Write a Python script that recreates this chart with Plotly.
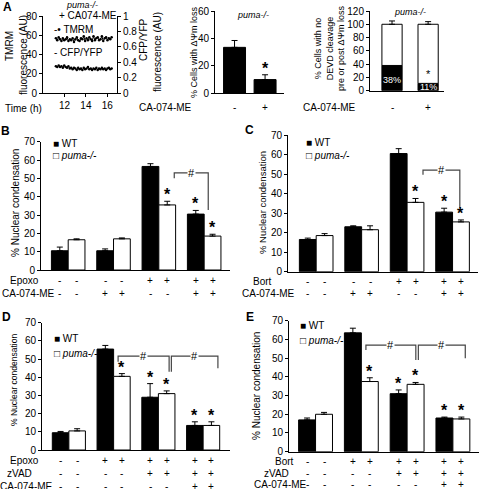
import plotly.graph_objects as go

W, H = 480, 489
FONT = "Liberation Sans, Arial, sans-serif"


def fx(p):
    return p / W


def fy(p):
    return 1 - p / H


# ---------------- Panel A: time course (puma-/- + CA074-ME) ----------------
time_h = [11.2, 11.33, 11.46, 11.59, 11.72, 11.85, 11.98, 12.11, 12.24, 12.37,
          12.5, 12.63, 12.76, 12.89, 13.02, 13.15, 13.28, 13.41, 13.54, 13.67,
          13.8, 13.93, 14.06, 14.19, 14.32, 14.45, 14.58, 14.71, 14.84, 14.97,
          15.1, 15.23, 15.36, 15.49, 15.62, 15.75, 15.88, 16.01, 16.14, 16.27, 16.4]
tmrm = [57, 55, 58, 56, 54, 57, 55, 56, 58, 54, 56, 55, 57, 53, 56, 58, 55, 54, 57, 56,
        59, 54, 57, 55, 58, 56, 54, 59, 55, 57, 58, 55, 56, 59, 54, 57, 58, 55, 57, 56, 58]
cfp_yfp = [0.35, 0.34, 0.36, 0.34, 0.35, 0.33, 0.36, 0.34, 0.33, 0.35, 0.32, 0.33, 0.31,
           0.33, 0.32, 0.30, 0.33, 0.31, 0.32, 0.30, 0.33, 0.31, 0.32, 0.34, 0.31, 0.32,
           0.30, 0.32, 0.31, 0.33, 0.30, 0.32, 0.31, 0.33, 0.31, 0.32, 0.30, 0.32, 0.33, 0.31, 0.32]

# ---------------- Panel A: bar charts ----------------
a_pos = [0, 1]
a_ca_signs = ["-", "+"]
dpsi_loss = [33.5, 10.0]
dpsi_loss_err = [5.0, 3.5]
devd_black = [38, 11]
devd_black_err = [4, 6]
devd_total = [100, 100]
devd_total_err = [5, 4]
devd_labels = ["38%", "11%"]

# ---------------- Panels B-E ----------------
groups = [0, 1, 2, 3]

b_wt = [10.5, 10.5, 56.5, 30.5]
b_wt_err = [2.0, 1.0, 1.5, 2.0]
b_ko = [16.5, 17.0, 35.5, 18.5]
b_ko_err = [0.5, 0.5, 2.0, 1.0]
b_rows = [("Epoxo", ["-", "-", "+", "+"]), ("CA-074-ME", ["-", "+", "-", "+"])]

c_wt = [16.5, 23.0, 60.5, 30.5]
c_wt_err = [0.7, 0.5, 2.5, 2.0]
c_ko = [18.5, 21.5, 35.5, 25.5]
c_ko_err = [1.0, 2.0, 2.0, 1.0]
c_rows = [("Bort", ["-", "-", "+", "+"]), ("CA-074-ME", ["-", "+", "-", "+"])]

d_wt = [9.5, 55.5, 29.0, 13.5]
d_wt_err = [0.7, 2.0, 7.5, 2.0]
d_ko = [10.5, 40.5, 31.0, 13.5]
d_ko_err = [1.2, 1.5, 1.5, 2.0]
d_rows = [("Epoxo", ["-", "+", "+", "+"]), ("zVAD", ["-", "-", "+", "+"]),
          ("CA-074-ME", ["-", "-", "-", "+"])]

e_wt = [17.0, 63.5, 31.0, 18.0]
e_wt_err = [1.0, 2.5, 2.0, 0.5]
e_ko = [20.0, 37.5, 36.0, 17.5]
e_ko_err = [1.0, 2.0, 1.0, 1.0]
e_rows = [("Bort", ["-", "+", "+", "+"]), ("zVAD", ["-", "-", "+", "+"]),
          ("CA-074-ME", ["-", "-", "-", "+"])]

BW = 0.37  # bar width (category units)

fig = go.Figure()
ann = []
shapes = []


def err(arr):
    return dict(type="data", array=arr, arrayminus=[0] * len(arr), symmetric=False,
                color="black", thickness=1, width=3)


def A(x, y, text, size=10, xref="paper", yref="paper", **kw):
    d = dict(x=x, y=y, text=text, xref=xref, yref=yref, showarrow=False,
             xanchor="center", yanchor="middle",
             font=dict(family=FONT, size=size, color=kw.pop("color", "black")))
    d.update(kw)
    ann.append(d)


# ---- A1 traces ----
fig.add_trace(go.Scatter(x=time_h, y=tmrm, xaxis="x", yaxis="y", mode="lines+markers",
                         line=dict(color="black", width=1), marker=dict(size=2.5, color="black"),
                         showlegend=False, hoverinfo="skip"))
fig.add_trace(go.Scatter(x=time_h, y=cfp_yfp, xaxis="x", yaxis="y2", mode="lines+markers",
                         line=dict(color="black", width=1), marker=dict(size=2.5, color="black"),
                         showlegend=False, hoverinfo="skip"))

# ---- A2 ----
fig.add_trace(go.Bar(x=a_pos, y=dpsi_loss, xaxis="x3", yaxis="y3", width=0.72,
                     marker=dict(color="black", line=dict(color="black", width=1)),
                     error_y=err(dpsi_loss_err), showlegend=False, hoverinfo="skip"))

# ---- A3 ----
fig.add_trace(go.Bar(x=a_pos, y=devd_black, xaxis="x4", yaxis="y4", width=0.56,
                     marker=dict(color="black", line=dict(color="black", width=1)),
                     error_y=err(devd_black_err), showlegend=False, hoverinfo="skip"))
fig.add_trace(go.Bar(x=a_pos, y=[t - b for t, b in zip(devd_total, devd_black)],
                     base=devd_black, xaxis="x4", yaxis="y4", width=0.56,
                     marker=dict(color="white", line=dict(color="black", width=1)),
                     error_y=err(devd_total_err), showlegend=False, hoverinfo="skip"))


def bar_panel(n, wt, wt_err, ko, ko_err):
    xa, ya = f"x{n}", f"y{n}"
    fig.add_trace(go.Bar(x=groups, y=wt, xaxis=xa, yaxis=ya, offset=-BW, width=BW,
                         marker=dict(color="black", line=dict(color="black", width=1)),
                         error_y=err(wt_err), showlegend=False, hoverinfo="skip"))
    fig.add_trace(go.Bar(x=groups, y=ko, xaxis=xa, yaxis=ya, offset=0, width=BW,
                         marker=dict(color="white", line=dict(color="black", width=1)),
                         error_y=err(ko_err), showlegend=False, hoverinfo="skip"))


bar_panel(5, b_wt, b_wt_err, b_ko, b_ko_err)
bar_panel(6, c_wt, c_wt_err, c_ko, c_ko_err)
bar_panel(7, d_wt, d_wt_err, d_ko, d_ko_err)
bar_panel(8, e_wt, e_wt_err, e_ko, e_ko_err)

# ---------------- axes ----------------
layout = dict(template="none", width=W, height=H, margin=dict(l=0, r=0, t=0, b=0, autoexpand=False),
              barmode="overlay", plot_bgcolor="white", paper_bgcolor="white",
              font=dict(family=FONT, size=10, color="black"), showlegend=False)


def yax(x0, x1, ytop, ybot, rng, dtick, **kw):
    d = dict(domain=[fy(ybot), fy(ytop)], range=rng, dtick=dtick, ticks="outside", ticklen=3,
             tickwidth=1, tickcolor="black", showline=True, linecolor="black", linewidth=1,
             showgrid=False, zeroline=False, tickfont=dict(size=10), fixedrange=True,
             automargin=False)
    d.update(kw)
    return d


def xax(x0, x1, rng, **kw):
    d = dict(domain=[fx(x0), fx(x1)], range=rng, showline=True, linecolor="black", linewidth=1,
             showgrid=False, zeroline=False, showticklabels=False, ticks="", fixedrange=True,
             automargin=False)
    d.update(kw)
    return d


# A1
layout["xaxis"] = xax(43, 117, [10, 16.9], anchor="y", showticklabels=True, tickvals=[12, 14, 16],
                      ticks="outside", ticklen=3, tickcolor="black", tickfont=dict(size=10))
layout["yaxis"] = yax(43, 117, 16, 93.3, [0, 80], 20, anchor="x")
layout["yaxis2"] = yax(43, 117, 16, 93.3, [0, 1], 0.2, anchor="x", overlaying="y", side="right",
                       tickvals=[0, 0.2, 0.4, 0.6, 0.8, 1], ticktext=["0", "0.2", "0.4", "0.6", "0.8", "1"])
# A2
layout["xaxis3"] = xax(215, 284, [-0.64, 1.62], anchor="y3")
layout["yaxis3"] = yax(215, 284, 11, 93.3, [0, 60], 20, anchor="x3")
# A3
layout["xaxis4"] = xax(370, 444, [-0.61, 1.44], anchor="y4")
layout["yaxis4"] = yax(370, 444, 11, 90.7, [0, 120], 20, anchor="x4")
# B
layout["xaxis5"] = xax(41, 230, [-0.6, 3.57], anchor="y5")
layout["yaxis5"] = yax(41, 230, 141.7, 270, [0, 70], 10, anchor="x5")
# C
layout["xaxis6"] = xax(288, 478, [-0.62, 3.56], anchor="y6")
layout["yaxis6"] = yax(288, 478, 135, 271.7, [0, 70], 10, anchor="x6")
# D
layout["xaxis7"] = xax(42, 230, [-0.6, 3.6], anchor="y7")
layout["yaxis7"] = yax(42, 230, 322.7, 450, [0, 70], 10, anchor="x7")
# E
layout["xaxis8"] = xax(289, 479, [-0.58, 3.57], anchor="y8")
layout["yaxis8"] = yax(289, 479, 320.7, 451.7, [0, 70], 10, anchor="x8")

# ---------------- panel letters ----------------
for L, x, y in [("A", 7, 7), ("B", 5, 131), ("C", 249, 130), ("D", 6, 317), ("E", 250, 317)]:
    A(fx(x), fy(y), f"<b>{L}</b>", size=12)

# ---------------- A1 annotations ----------------
A(fx(10), fy(46), "TMRM", textangle=-90)
A(fx(24), fy(55), "fluorescence (AU)", textangle=-90)
A(fx(143), fy(40), "CFP/YFP", textangle=-90)
A(fx(157), fy(52), "fluorescence (AU)", textangle=-90)
A(fx(82), fy(5), "<i>puma-/-</i>", size=9)
A(fx(57), fy(16), "+ CA074-ME", xanchor="left")
A(fx(52), fy(29), "-• TMRM", xanchor="left")
A(fx(52), fy(53), "- CFP/YFP", xanchor="left")
A(fx(3), fy(108), "Time (h)", xanchor="left")

# ---------------- A2 annotations ----------------
A(fx(194), fy(52), "% Cells with ΔΨm loss", size=9, textangle=-90)
A(fx(253), fy(15), "<i>puma-/-</i>", size=9)
A(fx(194), fy(107), "CA-074-ME", xanchor="right")
for p, s in zip(a_pos, a_ca_signs):
    A(p, fy(107), s, xref="x3")
A(1, dpsi_loss[1] + dpsi_loss_err[1], "<b>*</b>", size=16, xref="x3", yref="y3",
  yanchor="bottom", yshift=-4)

# ---------------- A3 annotations ----------------
A(fx(330), fy(48), "% Cells with no<br>DEVD cleavage<br>pre or post ΔΨm loss", size=9,
  textangle=-90)
A(fx(410), fy(12), "<i>puma-/-</i>", size=9)
A(fx(358), fy(107), "CA-074-ME", xanchor="right")
for p, s in zip(a_pos, a_ca_signs):
    A(p, fy(107), s, xref="x4")
for p, lab, yv in zip(a_pos, devd_labels, [16, 5.5]):
    A(p, yv, lab, xref="x4", yref="y4", color="white", size=9)
A(1, devd_black[1] + devd_black_err[1], "*", size=11, xref="x4", yref="y4",
  yanchor="bottom", yshift=-3, color="black")

# ---------------- B-E annotations ----------------
off = BW / 2


def panel_text(n, rows, row_y, label_x, wt, wt_err, ko, ko_err, stars, leg_xy, title_spec, brackets):
    xr, yr = f"x{n}", f"y{n}"
    for (name, signs), ypx, (lx, anchor) in zip(rows, row_y, label_x):
        A(fx(lx), fy(ypx), name, xanchor=anchor)
        for g, s in zip(groups, signs):
            A(g - off, fy(ypx), s, xref=xr)
            A(g + off, fy(ypx), s, xref=xr)
    for kind, g in stars:
        if kind == "wt":
            x, y = g - off, wt[g] + wt_err[g]
        else:
            x, y = g + off, ko[g] + ko_err[g]
        A(x, y, "<b>*</b>", size=16, xref=xr, yref=yr, yanchor="bottom", yshift=-4)
    lx, ly1, ly2 = leg_xy
    A(fx(lx), fy(ly1), "■ WT", xanchor="left")
    A(fx(lx), fy(ly2), "□ <i>puma-/-</i>", xanchor="left")
    tx, ty, ts = title_spec
    A(fx(tx), fy(ty), "% Nuclear condensation", size=ts, textangle=-90)
    for (x0, x1, ytop, yl, yr_) in brackets:
        shapes.append(dict(type="path", xref=xr, yref=yr,
                           path=f"M {x0},{yl} L {x0},{ytop} L {x1},{ytop} L {x1},{yr_}",
                           line=dict(color="#444", width=1.2)))
        A((x0 + x1) / 2, ytop, "#", size=11, xref=xr, yref=yr, bgcolor="white",
          borderpad=0)


std_stars_bc = [("ko", 2), ("wt", 3), ("ko", 3)]
std_stars_de = [("ko", 1), ("wt", 2), ("ko", 2), ("wt", 3), ("ko", 3)]

panel_text(5, b_rows, [280, 293], [(41, "right"), (0, "left")], b_wt, b_wt_err, b_ko, b_ko_err,
           std_stars_bc, (51, 143, 155), (15, 203, 10),
           [(2.34, 3.09, 53, 50, 32.8)])
panel_text(6, c_rows, [281, 293], [(274, "right"), (240, "left")], c_wt, c_wt_err, c_ko, c_ko_err,
           std_stars_bc, (304, 142.5, 155), (262, 203, 9.5),
           [(2.35, 3.16, 52, 49.6, 32.7)])
panel_text(7, d_rows, [460, 473, 486], [(41, "right"), (34, "right"), (-2, "left")],
           d_wt, d_wt_err, d_ko, d_ko_err, std_stars_de, (52, 338, 353), (14, 380, 8.5),
           [(1.1, 2.24, 51.6, 48.5, 43), (2.29, 3.33, 51.6, 43, 45)])
panel_text(8, e_rows, [461, 473, 484], [(296, "right"), (291, "right"), (252, "left")],
           e_wt, e_wt_err, e_ko, e_ko_err, std_stars_de, (298, 325, 340), (256, 386, 10),
           [(1.1, 2.19, 57, 54.3, 49), (2.245, 3.27, 57, 49, 50)])

layout["annotations"] = ann
layout["shapes"] = shapes
fig.update_layout(**layout)
fig.write_html("out.html", config={"displayModeBar": False, "staticPlot": True},
               post_script="document.body.style.margin='0';document.body.style.padding='0';"
                           "document.body.style.overflow='hidden';")
